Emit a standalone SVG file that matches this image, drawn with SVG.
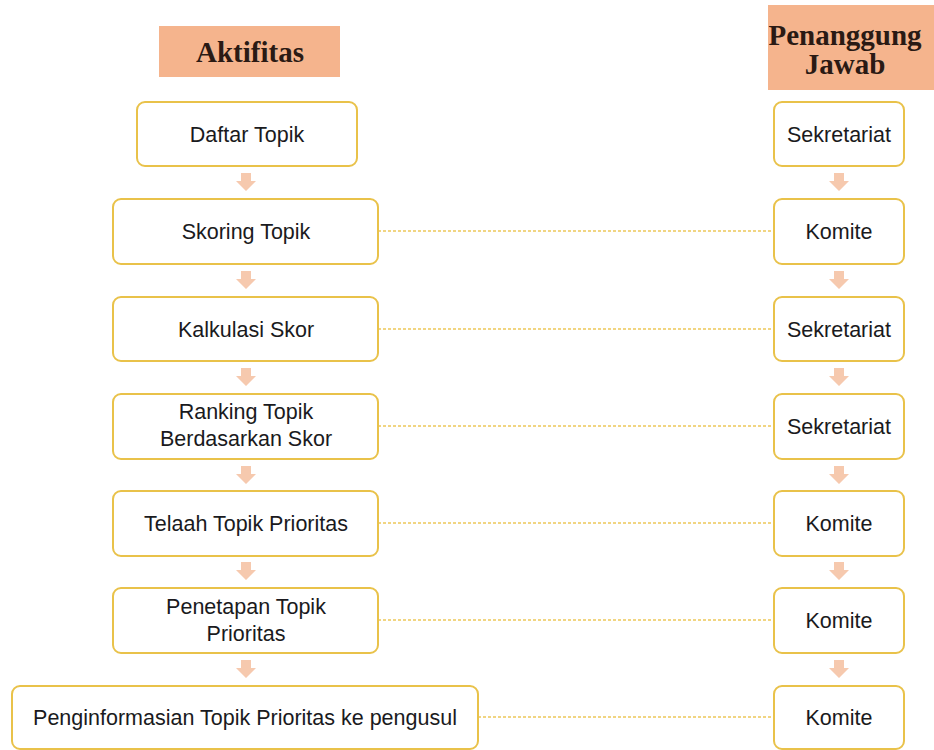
<svg xmlns="http://www.w3.org/2000/svg" width="934" height="750" viewBox="0 0 934 750">
<defs>
<style>
.hdr{fill:#F5B48D;}
.htxt{font-family:"Liberation Serif","DejaVu Serif",serif;font-weight:bold;font-size:29px;fill:#2a1a14;text-anchor:middle;}
.box{fill:#ffffff;stroke:#E9C24A;stroke-width:2;}
.txt{font-family:"Liberation Sans","Open Sans",sans-serif;font-size:21.5px;fill:#1a1a20;text-anchor:middle;}
.dash{stroke:#EDC85A;stroke-width:1.6;stroke-dasharray:3 2;fill:none;}
.arr{fill:#F6C9AE;}
</style>
<path id="darr" d="M-5,-9 L5,-9 L5,-1 L10,-1 L0,9 L-10,-1 L-5,-1 Z"/>
</defs>
<rect width="934" height="750" fill="#ffffff"/>
<g id="header-aktifitas">
<rect class="hdr" x="159" y="26" width="181" height="51"/>
<text class="htxt" x="250" y="62">Aktifitas</text>
</g>
<g id="header-penanggung">
<rect class="hdr" x="768" y="5" width="166" height="85"/>
<text class="htxt" x="845" y="45">Penanggung</text>
<text class="htxt" x="845" y="74">Jawab</text>
</g>
<g id="connectors">
<line class="dash" x1="378" y1="231" x2="774" y2="231"/>
<line class="dash" x1="378" y1="329" x2="774" y2="329"/>
<line class="dash" x1="378" y1="426" x2="774" y2="426"/>
<line class="dash" x1="378" y1="523" x2="774" y2="523"/>
<line class="dash" x1="378" y1="620" x2="774" y2="620"/>
<line class="dash" x1="478" y1="717" x2="774" y2="717"/>
<g class="arr">
<use href="#darr" x="246" y="182"/>
<use href="#darr" x="246" y="280"/>
<use href="#darr" x="246" y="377"/>
<use href="#darr" x="246" y="475"/>
<use href="#darr" x="246" y="571"/>
<use href="#darr" x="246" y="669"/>
<use href="#darr" x="839" y="182"/>
<use href="#darr" x="839" y="280"/>
<use href="#darr" x="839" y="377"/>
<use href="#darr" x="839" y="475"/>
<use href="#darr" x="839" y="571"/>
<use href="#darr" x="839" y="669"/>
</g>
</g>
<g id="a1"><rect class="box" x="137" y="102" width="220" height="64" rx="8"/><text class="txt" x="247" y="141.5">Daftar Topik</text></g>
<g id="a2"><rect class="box" x="113" y="199" width="265" height="65" rx="8"/><text class="txt" x="246" y="239">Skoring Topik</text></g>
<g id="a3"><rect class="box" x="113" y="297" width="265" height="64" rx="8"/><text class="txt" x="246" y="336.5">Kalkulasi Skor</text></g>
<g id="a4"><rect class="box" x="113" y="394" width="265" height="65" rx="8"/><text class="txt" x="246" y="419">Ranking Topik</text><text class="txt" x="246" y="446">Berdasarkan Skor</text></g>
<g id="a5"><rect class="box" x="113" y="491" width="265" height="65" rx="8"/><text class="txt" x="246" y="531">Telaah Topik Prioritas</text></g>
<g id="a6"><rect class="box" x="113" y="588" width="265" height="65" rx="8"/><text class="txt" x="246" y="614">Penetapan Topik</text><text class="txt" x="246" y="641">Prioritas</text></g>
<g id="a7"><rect class="box" x="12" y="686" width="466" height="63" rx="8"/><text class="txt" x="245" y="725">Penginformasian Topik Prioritas ke pengusul</text></g>
<g id="r1"><rect class="box" x="774" y="102" width="130" height="64" rx="8"/><text class="txt" x="839" y="141.5">Sekretariat</text></g>
<g id="r2"><rect class="box" x="774" y="199" width="130" height="65" rx="8"/><text class="txt" x="839" y="239">Komite</text></g>
<g id="r3"><rect class="box" x="774" y="297" width="130" height="64" rx="8"/><text class="txt" x="839" y="336.5">Sekretariat</text></g>
<g id="r4"><rect class="box" x="774" y="394" width="130" height="65" rx="8"/><text class="txt" x="839" y="434">Sekretariat</text></g>
<g id="r5"><rect class="box" x="774" y="491" width="130" height="65" rx="8"/><text class="txt" x="839" y="531">Komite</text></g>
<g id="r6"><rect class="box" x="774" y="588" width="130" height="65" rx="8"/><text class="txt" x="839" y="628">Komite</text></g>
<g id="r7"><rect class="box" x="774" y="686" width="130" height="63" rx="8"/><text class="txt" x="839" y="725">Komite</text></g>
</svg>
